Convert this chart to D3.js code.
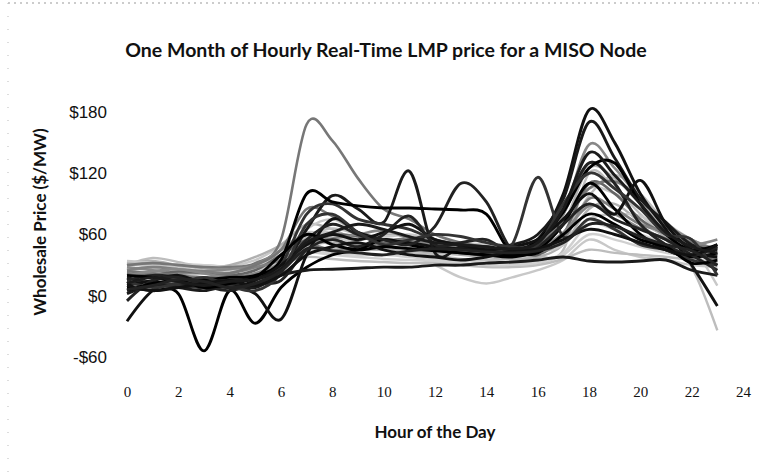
<!DOCTYPE html>
<html>
<head>
<meta charset="utf-8">
<script src="https://cdn.jsdelivr.net/npm/d3@7"></script>
<style>
body { margin:0; background:#fff; }
svg { font-family: Lato, "Open Sans", sans-serif; }
.title { font-size:19.5px; font-weight:bold; fill:#111; }
.label { font-size:17px; font-weight:bold; fill:#111; }
.axis text { font-size:17px; fill:#111; }
.xaxis text { font-family:"Liberation Serif", "DejaVu Serif", serif; font-size:15px; }
.axis path { display:none; }
</style>
</head>
<body>
<svg id="chart"></svg>
<script>
// hours 0..23, one array per day of the month (values in $/MW)
var hours = d3.range(0,24);
var xTicks = [0,2,4,6,8,10,12,14,16,18,20,22,24];
var yTicks = [-60,0,60,120,180];

var day01 = [8,5,2,-54,5,-27,8,28,40,45,55,50,45,42,40,38,45,70,110,85,60,45,38,42];
var day02 = [-25,5,12,8,10,2,-23,40,75,62,55,52,48,46,44,45,55,100,182,150,100,65,30,-10];
var day03 = [18,12,10,14,12,10,25,65,98,85,72,122,42,48,45,50,60,95,170,135,95,72,50,45];
var day04 = [15,20,18,15,15,18,28,55,70,60,55,50,68,110,92,45,55,85,130,110,70,50,40,48];
var day05 = [12,14,10,8,10,12,30,80,90,75,70,65,55,50,48,50,116,58,75,65,50,45,35,30];
var day06 = [20,18,15,16,18,20,35,100,92,88,86,86,85,84,80,42,55,82,125,130,90,60,45,50];
var day07 = [10,15,20,12,8,15,30,50,60,55,62,70,55,50,45,48,55,75,100,80,113,70,45,38];
var day08 = [2,10,8,5,10,8,20,25,26,27,28,28,30,30,32,33,35,38,34,33,34,35,25,20];
var day09 = [-5,15,18,10,5,12,15,45,55,48,60,78,50,52,55,42,48,70,90,75,65,55,40,25];
var day10 = [14,8,12,18,10,5,22,70,80,62,50,55,60,58,52,48,50,90,120,105,85,60,55,20];
var day11 = [5,12,15,8,12,18,40,60,50,45,48,46,44,42,40,40,42,60,80,70,55,48,32,35];
var day12 = [10,5,8,12,15,10,20,40,48,52,45,40,38,35,38,44,46,55,65,60,52,45,40,50];
var day13 = [12,18,14,10,14,16,26,52,62,70,65,58,52,50,48,46,52,85,140,118,90,62,48,42];
var day14 = [6,10,16,14,8,12,24,46,44,42,40,44,46,45,43,42,44,52,70,68,58,50,44,30];
var day15 = [30,32,30,28,28,32,55,168,152,115,85,75,60,52,48,45,50,80,130,110,70,55,45,35];
var day16 = [28,25,22,24,26,30,45,60,55,50,48,46,45,44,42,40,45,80,148,125,95,70,55,45];
var day17 = [22,20,24,22,20,25,40,55,60,58,52,55,50,48,46,44,40,60,110,100,75,60,50,30];
var day18 = [25,28,26,24,22,28,35,50,45,48,50,52,48,45,42,40,42,55,95,85,70,62,48,40];
var day19 = [24,22,20,18,22,30,45,85,78,62,55,56,54,50,46,45,48,72,105,112,95,68,52,46];
var day20 = [20,24,26,22,18,22,32,50,56,60,64,56,50,47,45,44,46,62,88,80,66,56,50,55];
var day21 = [30,37,33,28,28,30,40,55,50,45,45,42,40,36,35,36,38,45,120,105,80,55,28,-34];
var day22 = [30,30,31,30,29,35,48,60,62,50,45,40,30,18,12,18,25,35,55,45,38,35,30,28];
var day23 = [32,34,30,28,30,38,50,70,65,55,60,58,52,50,48,46,50,70,125,115,90,68,50,40];
var day24 = [18,20,22,18,16,20,30,42,40,38,36,35,34,32,30,30,32,40,60,55,48,42,38,30];
var day25 = [25,22,20,22,24,26,32,38,36,34,33,32,32,30,28,28,30,36,45,42,40,38,35,32];
var day26 = [20,18,15,12,18,22,38,65,75,62,58,60,55,52,50,48,52,75,105,100,85,65,50,48];
var day27 = [15,12,10,14,15,18,28,48,52,48,45,44,42,40,38,36,38,50,85,90,72,58,42,36];
var day28 = [28,26,28,30,28,30,36,44,42,40,40,38,36,34,33,32,34,42,70,65,60,50,40,25];
var day29 = [26,28,30,26,24,28,38,58,66,60,54,52,48,45,44,42,44,58,98,118,100,72,55,45];
var day30 = [34,32,28,24,25,30,44,62,58,52,50,48,46,44,42,40,42,50,75,80,78,62,48,10];

// drawing order: light days first, dark days on top
var lightDays = [day21,day22,day23,day24,day25,day26,day27,day28,day29,day30];
var grayDays = [day15,day16,day17,day18,day19,day20];
var darkDays = [day01,day02,day03,day04,day05,day06,day07,day08,day09,day10,day11,day12,day13,day14];

var drawDays = function(days,target,xScale,yScale,color,width)
{
    var line = d3.line()
        .x(function(d,i){ return xScale(hours[i]); })
        .y(function(d){ return yScale(d); })
        .curve(d3.curveCardinal);

    target.append("g")
    .selectAll("path")
    .data(days)
    .enter()
    .append("path")
    .attr("d",line)
    .attr("fill","none")
    .attr("stroke",function(d,i){ return color(i); })
    .attr("stroke-width",width)
    .attr("stroke-linejoin","round")
}

var drawAxes = function(svg,xScale,yScale)
{
    var yAxis = d3.axisLeft(yScale)
        .tickValues(yTicks)
        .tickSize(0)
        .tickPadding(20)
        .tickFormat(function(d){ return d<0 ? "-$"+(-d) : "$"+d; });
    svg.append("g")
    .attr("class","axis")
    .attr("transform","translate("+xScale(0)+",0)")
    .call(yAxis)

    var xAxis = d3.axisBottom(xScale)
        .tickValues(xTicks)
        .tickSize(0)
        .tickPadding(8);
    svg.append("g")
    .attr("class","axis xaxis")
    .attr("transform","translate(0,378)")
    .call(xAxis)
}

var drawLabels = function(svg)
{
    svg.append("text")
    .text("One Month of Hourly Real-Time LMP price for a MISO Node")
    .classed("title",true)
    .attr("text-anchor","middle")
    .attr("x",386)
    .attr("y",57)

    svg.append("text")
    .text("Hour of the Day")
    .classed("label",true)
    .attr("text-anchor","middle")
    .attr("x",435)
    .attr("y",438)

    svg.append("text")
    .text("Wholesale Price ($/MW)")
    .classed("label",true)
    .attr("text-anchor","middle")
    .attr("transform","translate(46,222) rotate(270)")
}

var initGraph = function()
{
    var screen = {width:759,height:472}
    var svg = d3.select("#chart")
    .attr("width",screen.width)
    .attr("height",screen.height)

    // faint scanned border of the chart area
    svg.append("line").attr("x1",8).attr("x2",759).attr("y1",3).attr("y2",3)
    .attr("stroke","#999").attr("stroke-dasharray","2,4")
    svg.append("line").attr("x1",8).attr("x2",8).attr("y1",3).attr("y2",472)
    .attr("stroke","#bbb").attr("stroke-dasharray","1,12")

    var xScale = d3.scaleLinear()
    .domain([0,24])
    .range([127,743])

    var yScale = d3.scaleLinear()
    .domain([-60,180])
    .range([357,112])

    var grayColor = d3.scaleOrdinal().range(["#777","#888","#666","#808080"])
    var lightColor = d3.scaleOrdinal().range(["#bdbdbd","#c8c8c8","#b0b0b0","#d0d0d0"])
    var darkColor = d3.scaleOrdinal().range(["#000","#111","#1a1a1a","#222","#333"])

    drawDays(lightDays,svg,xScale,yScale,lightColor,2.4);
    drawDays(grayDays,svg,xScale,yScale,grayColor,2.6);
    drawDays(darkDays,svg,xScale,yScale,darkColor,2.9);
    drawAxes(svg,xScale,yScale);
    drawLabels(svg);
}

initGraph();
</script>
</body>
</html>
